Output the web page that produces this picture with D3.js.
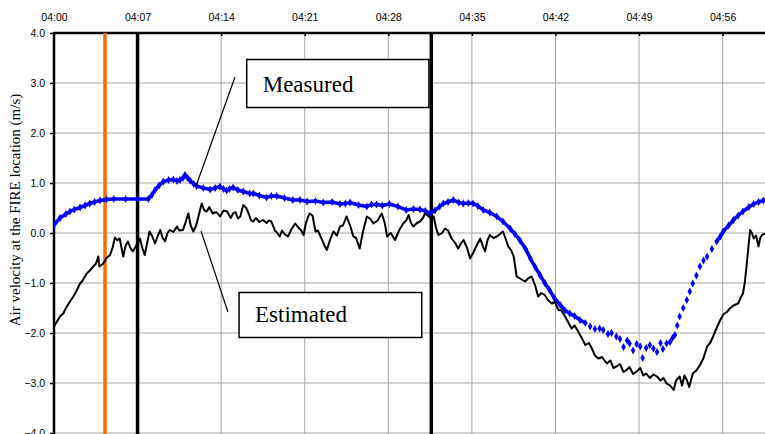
<!DOCTYPE html>
<html>
<head>
<meta charset="utf-8">
<script src="https://cdn.jsdelivr.net/npm/d3@7"></script>
<style>
  body { margin: 0; background: #fff; }
  svg { display: block; }
  .tick text { font-family: "Liberation Sans", Arial, sans-serif; font-size: 10.5px; fill: #000; }
</style>
</head>
<body>
<div id="chart"></div>
<script>
// minutes after 04:00
var tickMinutes = [0, 7, 14, 21, 28, 35, 42, 49, 56];
var tickLabels = ["04:00", "04:07", "04:14", "04:21", "04:28", "04:35", "04:42", "04:49", "04:56"];
var yTicks = [-4, -3, -2, -1, 0, 1, 2, 3, 4];

// event markers (minutes)
var orangeMarker = [4.27];
var blackMarkers = [7.0, 31.6];

// measured air velocity (blue)
var measuredT = [0, 0.5, 1.0, 1.34, 1.7, 2.18, 2.6, 3.0, 3.4, 3.85, 4.4, 5.0, 6.0, 7.0, 7.9, 8.2, 8.46, 8.8, 9.16, 9.6,
  10.0, 10.3, 10.55, 10.8, 10.97, 11.2, 11.4, 11.7, 11.95, 12.5, 13.07, 13.5, 13.9, 14.2, 14.46, 14.7, 15.0, 15.4, 15.85, 16.4,
  16.7, 17.2, 17.8, 18.2, 18.65, 19.3, 20.0, 20.6, 21.2, 21.9, 22.55, 23.3, 23.95, 24.4, 24.8, 25.5, 26.2, 26.6, 27.0, 27.5,
  28.1, 28.8, 29.5, 30.1, 30.65, 31.1, 31.5, 31.9, 32.3, 32.6, 33.0, 33.44, 33.9, 34.28, 34.7, 35.1, 35.5, 35.95, 36.5, 37.08,
  37.6, 38.2, 38.6, 39.0, 39.5, 39.9, 40.3, 40.7, 41.1, 41.5, 41.9, 42.4, 42.8, 43.2, 43.6, 44.05, 44.5, 44.9, 45.3, 45.7,
  46.0, 46.4, 46.7, 47.1, 47.4, 47.7, 48.0, 48.2, 48.5, 48.8, 49.1, 49.3, 49.6, 49.9, 50.2, 50.5, 50.8, 51.0, 51.3, 51.6,
  51.8, 52.0, 52.2, 52.4, 52.7, 53.0, 53.25, 53.5, 53.8, 54.1, 54.4, 54.7, 55.1, 55.5, 55.8, 56.05, 56.5, 56.9, 57.3, 57.7,
  58.2, 58.6, 59.0, 59.4, 59.8];
var measuredV = [0.16, 0.30, 0.38, 0.43, 0.47, 0.51, 0.55, 0.59, 0.62, 0.65, 0.67, 0.68, 0.68, 0.68, 0.68, 0.76, 0.86, 0.95, 1.03, 1.06,
  1.07, 1.04, 1.06, 1.10, 1.16, 1.10, 1.05, 0.98, 0.94, 0.90, 0.87, 0.90, 0.93, 0.88, 0.85, 0.88, 0.91, 0.86, 0.83, 0.79,
  0.79, 0.75, 0.71, 0.74, 0.74, 0.70, 0.66, 0.66, 0.63, 0.64, 0.61, 0.62, 0.58, 0.59, 0.61, 0.56, 0.53, 0.57, 0.57, 0.55,
  0.58, 0.53, 0.46, 0.48, 0.47, 0.44, 0.39, 0.45, 0.53, 0.59, 0.62, 0.66, 0.61, 0.59, 0.60, 0.59, 0.54, 0.46, 0.41, 0.33,
  0.23, 0.09, -0.02, -0.14, -0.32, -0.51, -0.68, -0.84, -1.00, -1.14, -1.30, -1.44, -1.55, -1.61, -1.66, -1.74, -1.80, -1.87, -1.92, -1.91,
  -1.94, -2.02, -2.00, -2.07, -2.12, -2.28, -2.15, -2.21, -2.35, -2.22, -2.27, -2.50, -2.30, -2.24, -2.31, -2.38, -2.20, -2.32, -2.21, -2.18,
  -2.10, -2.04, -1.85, -1.67, -1.50, -1.34, -1.17, -1.01, -0.85, -0.67, -0.55, -0.47, -0.32, -0.17, -0.07, 0.03, 0.15, 0.26, 0.35, 0.43,
  0.52, 0.58, 0.62, 0.65, 0.66];

// estimated air velocity (black)
var estimatedT = [0, 0.3, 0.5, 0.78, 1.0, 1.34, 1.6, 1.9, 2.18, 2.4, 2.74, 3.0, 3.29, 3.5, 3.71, 3.8, 4.13, 4.4, 4.69, 4.9,
  5.1, 5.3, 5.5, 5.8, 6.0, 6.2, 6.4, 6.6, 6.9, 7.2, 7.4, 7.6, 7.8, 8.0, 8.2, 8.46, 8.7, 8.9, 9.1, 9.3,
  9.5, 9.7, 10.0, 10.3, 10.5, 10.8, 11.0, 11.25, 11.45, 11.67, 11.9, 12.1, 12.37, 12.6, 12.8, 13.0, 13.3, 13.6, 13.9, 14.2,
  14.5, 14.8, 15.0, 15.2, 15.4, 15.6, 15.85, 16.1, 16.3, 16.5, 16.7, 16.9, 17.2, 17.5, 17.8, 18.0, 18.2, 18.5, 18.7, 18.9,
  19.1, 19.3, 19.6, 19.9, 20.2, 20.5, 20.7, 20.9, 21.1, 21.4, 21.65, 21.9, 22.1, 22.4, 22.65, 22.85, 23.1, 23.4, 23.7, 23.95,
  24.2, 24.5, 24.8, 25.07, 25.3, 25.6, 25.9, 26.2, 26.5, 26.75, 27.1, 27.45, 27.7, 27.9, 28.2, 28.56, 28.9, 29.25, 29.5, 29.7,
  29.9, 30.1, 30.4, 30.65, 30.9, 31.07, 31.3, 31.6, 31.8, 32.0, 32.2, 32.5, 32.75, 33.0, 33.3, 33.6, 33.85, 34.1, 34.3, 34.6,
  34.85, 35.1, 35.4, 35.7, 35.9, 36.1, 36.3, 36.5, 36.8, 37.1, 37.35, 37.6, 37.8, 38.05, 38.3, 38.5, 38.75, 39.1, 39.45, 39.75,
  40.0, 40.3, 40.55, 40.8, 41.1, 41.4, 41.7, 41.95, 42.25, 42.5, 42.8, 43.1, 43.35, 43.6, 43.9, 44.2, 44.5, 44.8, 45.05, 45.3,
  45.6, 45.9, 46.3, 46.6, 46.85, 47.1, 47.4, 47.7, 47.95, 48.2, 48.5, 48.8, 49.1, 49.35, 49.6, 49.9, 50.2, 50.5, 50.8, 51.05,
  51.3, 51.6, 51.9, 52.1, 52.4, 52.6, 52.8, 53.0, 53.2, 53.5, 53.8, 54.1, 54.4, 54.7, 54.95, 55.2, 55.5, 55.8, 56.1, 56.35,
  56.6, 56.9, 57.3, 57.5, 57.7, 57.85, 58.0, 58.15, 58.3, 58.45, 58.6, 58.8, 59.0, 59.15, 59.3, 59.5, 59.7];
var estimatedV = [-1.87, -1.75, -1.67, -1.61, -1.50, -1.37, -1.28, -1.15, -1.01, -0.95, -0.81, -0.75, -0.67, -0.62, -0.47, -0.67, -0.61, -0.50, -0.44, -0.30,
  -0.09, -0.15, -0.11, -0.47, -0.25, -0.17, -0.30, -0.37, -0.25, -0.11, -0.30, -0.44, -0.20, 0.03, -0.05, -0.21, -0.05, 0.06, -0.10, -0.17,
  0.00, 0.06, 0.02, 0.13, 0.05, 0.06, 0.20, 0.39, 0.15, 0.03, 0.15, 0.33, 0.59, 0.45, 0.43, 0.52, 0.39, 0.42, 0.33, 0.45,
  0.43, 0.30, 0.39, 0.42, 0.29, 0.33, 0.56, 0.50, 0.39, 0.25, 0.23, 0.30, 0.22, 0.26, 0.20, 0.25, 0.23, 0.05, 0.00, -0.07,
  0.05, -0.02, -0.07, 0.08, 0.19, 0.10, 0.05, -0.04, 0.20, 0.39, 0.35, 0.03, 0.05, -0.11, -0.25, -0.34, -0.15, 0.03, -0.05, 0.13,
  0.15, 0.33, 0.15, -0.07, -0.10, -0.31, 0.05, 0.33, 0.28, 0.19, 0.25, 0.39, 0.20, -0.07, 0.00, -0.14, 0.05, 0.19, 0.25, 0.36,
  0.20, 0.13, 0.20, 0.23, 0.30, 0.39, 0.35, 0.29, 0.33, 0.10, -0.04, 0.00, 0.09, 0.05, -0.11, -0.20, -0.31, -0.20, -0.14, -0.30,
  -0.51, -0.40, -0.25, -0.11, -0.25, -0.37, -0.15, -0.04, -0.10, -0.07, -0.02, 0.03, -0.10, -0.27, -0.35, -0.47, -0.87, -0.92, -0.97, -0.90,
  -0.87, -1.05, -1.27, -1.20, -1.24, -1.35, -1.41, -1.38, -1.54, -1.55, -1.67, -1.80, -1.91, -1.85, -1.97, -2.10, -2.24, -2.20, -2.31, -2.45,
  -2.51, -2.48, -2.61, -2.55, -2.70, -2.67, -2.62, -2.78, -2.74, -2.68, -2.82, -2.77, -2.70, -2.85, -2.81, -2.90, -2.83, -2.87, -2.95, -2.90,
  -3.01, -3.05, -3.14, -2.95, -2.87, -3.05, -2.85, -2.94, -3.08, -2.81, -2.75, -2.64, -2.50, -2.27, -2.20, -2.07, -1.90, -1.74, -1.62, -1.58,
  -1.51, -1.45, -1.41, -1.30, -1.21, -1.00, -0.67, -0.30, 0.06, 0.00, -0.11, -0.05, -0.27, -0.10, -0.04, -0.01, -0.05];

var width = 765, height = 434;
var margin = {top: 33, right: 0, bottom: 1, left: 54};

var svg = d3.select("#chart").append("svg")
  .attr("width", width)
  .attr("height", height);

var x = d3.scaleLinear().domain([0, 60]).range([margin.left, margin.left + 716.4]);
var y = d3.scaleLinear().domain([-4, 4]).range([height - margin.bottom, margin.top]);

svg.append("clipPath").attr("id", "plot")
  .append("rect")
  .attr("x", margin.left).attr("y", margin.top)
  .attr("width", width - margin.left).attr("height", height - margin.top);

// gridlines
svg.append("g")
  .selectAll("line")
  .data(yTicks)
  .join("line")
  .attr("x1", margin.left).attr("x2", width)
  .attr("y1", d => y(d)).attr("y2", d => y(d))
  .attr("stroke", "#a6a6a6").attr("stroke-width", 1);

svg.append("g")
  .selectAll("line")
  .data(tickMinutes.slice(1))
  .join("line")
  .attr("x1", d => x(d)).attr("x2", d => x(d))
  .attr("y1", margin.top).attr("y2", height)
  .attr("stroke", "#a6a6a6").attr("stroke-width", 1);

// top axis
var xAxis = d3.axisTop(x)
  .tickValues(tickMinutes)
  .tickFormat((d, i) => tickLabels[i])
  .tickSize(-3)
  .tickPadding(12);
var gx = svg.append("g")
  .attr("transform", "translate(0," + margin.top + ")")
  .call(xAxis);
gx.select(".domain").remove();
gx.selectAll(".tick line").attr("stroke", "#000").attr("stroke-width", 1.5);

// left axis
var yAxis = d3.axisLeft(y)
  .tickValues(yTicks)
  .tickFormat(d3.format(".1f"))
  .tickSize(4)
  .tickPadding(5);
var gy = svg.append("g")
  .attr("transform", "translate(" + margin.left + ",0)")
  .call(yAxis);
gy.select(".domain").remove();
gy.selectAll(".tick line").attr("stroke", "#000").attr("stroke-width", 1.5);

svg.append("line")
  .attr("x1", margin.left).attr("x2", width)
  .attr("y1", margin.top).attr("y2", margin.top)
  .attr("stroke", "#000").attr("stroke-width", 2.5);
svg.append("line")
  .attr("x1", margin.left).attr("x2", margin.left)
  .attr("y1", margin.top - 1).attr("y2", height)
  .attr("stroke", "#000").attr("stroke-width", 2.5);

// event markers
svg.append("g")
  .selectAll("line")
  .data(orangeMarker)
  .join("line")
  .attr("x1", d => x(d)).attr("x2", d => x(d))
  .attr("y1", margin.top).attr("y2", height)
  .attr("stroke", "#ff6a00").attr("stroke-width", 3.5);
svg.append("g")
  .selectAll("line")
  .data(blackMarkers)
  .join("line")
  .attr("x1", d => x(d)).attr("x2", d => x(d))
  .attr("y1", margin.top).attr("y2", height)
  .attr("stroke", "#000").attr("stroke-width", 3.5);

var plot = svg.append("g").attr("clip-path", "url(#plot)");

// measured
var measured = measuredT.map((t, i) => ({t: t, v: measuredV[i]}));
var measLine = d3.line()
  .defined(d => d.t < 44.6 || d.t > 55.4)
  .x(d => x(d.t)).y(d => y(d.v));
plot.append("path")
  .datum(measured)
  .attr("fill", "none")
  .attr("stroke", "#0000ff")
  .attr("stroke-width", 3.5)
  .attr("d", measLine);
plot.append("g")
  .selectAll("path")
  .data(measured)
  .join("path")
  .attr("transform", d => "translate(" + x(d.t) + "," + y(d.v) + ")")
  .attr("d", d3.symbol(d3.symbolDiamond, 18))
  .attr("fill", "#0000ff");

// estimated
var estimated = estimatedT.map((t, i) => ({t: t, v: estimatedV[i]}));
plot.append("path")
  .datum(estimated)
  .attr("fill", "none")
  .attr("stroke", "#000")
  .attr("stroke-width", 2)
  .attr("stroke-linejoin", "round")
  .attr("d", d3.line().x(d => x(d.t)).y(d => y(d.v)));

// callouts
function callout(box, from, to, label) {
  svg.append("line")
    .attr("x1", x(from[0])).attr("y1", y(from[1]))
    .attr("x2", x(to[0])).attr("y2", y(to[1]))
    .attr("stroke", "#000").attr("stroke-width", 1.2);
  svg.append("rect")
    .attr("x", x(box[0])).attr("y", y(box[2]))
    .attr("width", x(box[1]) - x(box[0]))
    .attr("height", y(box[3]) - y(box[2]))
    .attr("fill", "#fff").attr("stroke", "#000").attr("stroke-width", 1.5);
  svg.append("text")
    .attr("x", x(box[0]) + 16)
    .attr("y", y(box[3]) - 16)
    .attr("font-family", "'Liberation Serif', 'Times New Roman', serif")
    .attr("font-size", 23)
    .text(label);
}
callout([16.14, 31.4, 3.47, 2.51], [15.16, 3.12], [11.9, 0.94], "Measured");
callout([15.5, 30.8, -1.19, -2.09], [14.57, -1.58], [12.31, 0.04], "Estimated");

// y label
svg.append("text")
  .attr("transform", "translate(20," + 210 + ") rotate(-90)")
  .attr("text-anchor", "middle")
  .attr("font-family", "'Liberation Serif', 'Times New Roman', serif")
  .attr("font-size", 15)
  .text("Air velocity at the FIRE location (m/s)");
</script>
</body>
</html>
